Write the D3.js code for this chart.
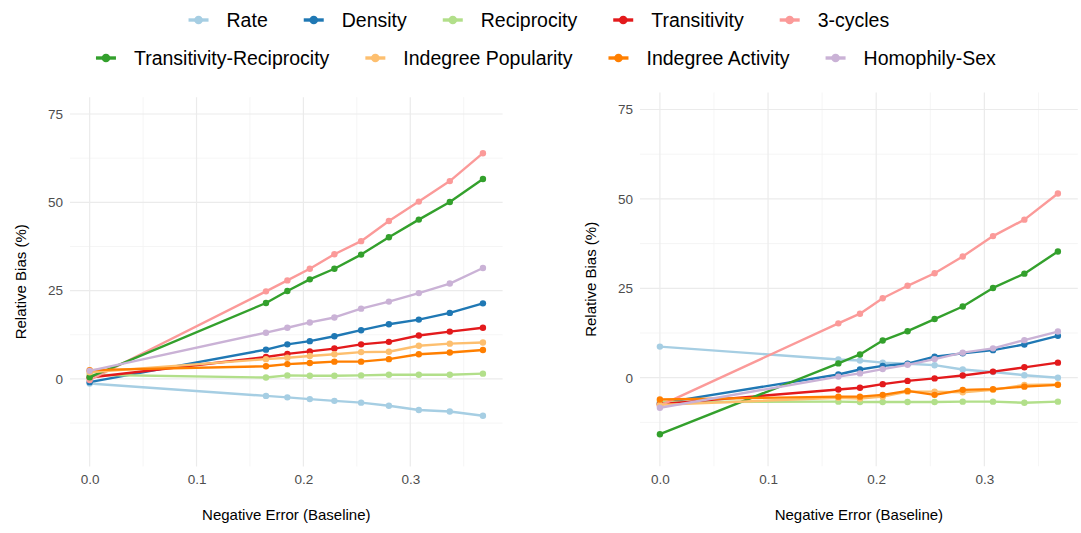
<!DOCTYPE html>
<html>
<head>
<meta charset="utf-8">
<script src="https://cdn.jsdelivr.net/npm/d3@7"></script>
<style>
  body { margin: 0; background: #fff; }
  svg { display: block; font-family: "Liberation Sans", Arial, sans-serif; }
</style>
</head>
<body>
<svg id="chart" width="1081" height="533"></svg>
<script>
// Negative error levels on the x axis
const errorLevels = [0, 0.165, 0.185, 0.206, 0.229, 0.254, 0.280, 0.308, 0.337, 0.368];

// Effects, in legend order, with their colours (ColorBrewer "Paired")
const effects = ["Rate", "Density", "Reciprocity", "Transitivity", "3-cycles",
                 "Transitivity-Reciprocity", "Indegree Popularity", "Indegree Activity", "Homophily-Sex"];
const effectColors = ["#A6CEE3", "#1F78B4", "#B2DF8A", "#E31A1C", "#FB9A99",
                      "#33A02C", "#FDBF6F", "#FF7F00", "#CAB2D6"];

// Relative bias (%) — left panel
const leftRate         = [-1.3, -4.8, -5.2, -5.7, -6.2, -6.7, -7.6, -8.8, -9.2, -10.4];
const leftDensity      = [-0.9, 8.3, 9.8, 10.7, 12.1, 13.8, 15.5, 16.8, 18.7, 21.4];
const leftReciprocity  = [1.2, 0.4, 1.0, 0.9, 0.9, 1.0, 1.2, 1.2, 1.2, 1.5];
const leftTransitivity = [0.4, 6.2, 7.1, 7.8, 8.6, 9.8, 10.5, 12.3, 13.4, 14.5];
const leftCycles       = [-0.3, 24.8, 27.9, 31.2, 35.3, 39.0, 44.7, 50.2, 56.0, 63.9];
const leftTransRecip   = [0.5, 21.5, 24.9, 28.2, 31.2, 35.2, 40.1, 45.1, 50.1, 56.6];
const leftInPop        = [1.9, 5.6, 6.0, 6.5, 7.0, 7.6, 7.7, 9.4, 10.0, 10.3];
const leftInAct        = [2.5, 3.6, 4.2, 4.5, 4.9, 4.9, 5.6, 7.0, 7.5, 8.2];
const leftHomophily    = [2.3, 13.1, 14.5, 16.0, 17.4, 19.9, 21.9, 24.3, 27.0, 31.4];

// Relative bias (%) — right panel
const rightRate         = [8.7, 5.1, 4.8, 4.2, 3.9, 3.5, 2.3, 1.6, 0.7, 0.0];
const rightDensity      = [-7.2, 0.9, 2.3, 3.3, 3.9, 5.9, 6.8, 7.7, 9.3, 11.7];
const rightReciprocity  = [-6.8, -6.7, -6.8, -6.8, -6.8, -6.8, -6.7, -6.7, -7.0, -6.7];
const rightTransitivity = [-7.4, -3.3, -2.8, -1.8, -0.9, -0.2, 0.6, 1.7, 2.9, 4.2];
const rightCycles       = [-7.8, 15.2, 17.9, 22.2, 25.7, 29.2, 33.9, 39.6, 44.2, 51.5];
const rightTransRecip   = [-15.8, 4.0, 6.5, 10.4, 13.0, 16.4, 19.9, 25.1, 29.1, 35.3];
const rightInPop        = [-7.6, -5.6, -5.8, -5.3, -3.9, -3.9, -4.1, -3.4, -2.0, -1.9];
const rightInAct        = [-6.1, -5.3, -5.3, -4.8, -3.7, -4.8, -3.4, -3.2, -2.5, -2.0];
const rightHomophily    = [-8.4, 0.3, 1.2, 2.4, 3.6, 5.2, 7.0, 8.2, 10.5, 12.9];

// Axis ticks
const xMajorTicks = [0, 0.1, 0.2, 0.3];
const xMinorTicks = [0.05, 0.15, 0.25, 0.35];
const yMajorTicks = [0, 25, 50, 75];
const yMinorTicks = [-12.5, 12.5, 37.5, 62.5];
const xLimits = [0, 0.368];
const yLimits = [-20, 75];

const xTitle = "Negative Error (Baseline)";
const yTitle = "Relative Bias (%)";

const leftSeries = [leftRate, leftDensity, leftReciprocity, leftTransitivity, leftCycles,
                    leftTransRecip, leftInPop, leftInAct, leftHomophily];
const rightSeries = [rightRate, rightDensity, rightReciprocity, rightTransitivity, rightCycles,
                     rightTransRecip, rightInPop, rightInAct, rightHomophily];

const svg = d3.select("#chart");

function expand(lim, frac) {
  const d = (lim[1] - lim[0]) * frac;
  return [lim[0] - d, lim[1] + d];
}

function drawPanel(series, box) {
  const x = d3.scaleLinear().domain(expand(xLimits, 0.05)).range([box.left, box.right]);
  const y = d3.scaleLinear().domain(expand(yLimits, 0.05)).range([box.bottom, box.top]);
  const g = svg.append("g");

  // grid
  const grid = g.append("g");
  grid.selectAll("line.ymin").data(yMinorTicks).join("line")
    .attr("x1", box.left).attr("x2", box.right)
    .attr("y1", d => y(d)).attr("y2", d => y(d))
    .attr("stroke", "#F2F2F2").attr("stroke-width", 0.8);
  grid.selectAll("line.xmin").data(xMinorTicks).join("line")
    .attr("y1", box.top).attr("y2", box.bottom)
    .attr("x1", d => x(d)).attr("x2", d => x(d))
    .attr("stroke", "#F2F2F2").attr("stroke-width", 0.8);
  grid.selectAll("line.ymaj").data(yMajorTicks).join("line")
    .attr("x1", box.left).attr("x2", box.right)
    .attr("y1", d => y(d)).attr("y2", d => y(d))
    .attr("stroke", "#EBEBEB").attr("stroke-width", 1.2);
  grid.selectAll("line.xmaj").data(xMajorTicks).join("line")
    .attr("y1", box.top).attr("y2", box.bottom)
    .attr("x1", d => x(d)).attr("x2", d => x(d))
    .attr("stroke", "#EBEBEB").attr("stroke-width", 1.2);

  // axes (labels only, no domain line or tick marks)
  const yAxis = d3.axisLeft(y).tickValues(yMajorTicks).tickSize(0).tickPadding(7).tickFormat(d3.format("d"));
  const xAxis = d3.axisBottom(x).tickValues(xMajorTicks).tickSize(0).tickPadding(8).tickFormat(d3.format(".1f"));
  const ya = g.append("g").attr("transform", `translate(${box.left},0)`).call(yAxis);
  const xa = g.append("g").attr("transform", `translate(0,${box.bottom})`).call(xAxis);
  [ya, xa].forEach(a => {
    a.select(".domain").remove();
    a.selectAll("text").attr("fill", "#4D4D4D").style("font-size", "13.5px")
      .style("font-family", "'Liberation Sans', Arial, sans-serif");
  });

  // titles
  g.append("text")
    .attr("x", (box.left + box.right) / 2).attr("y", 520)
    .attr("text-anchor", "middle").attr("fill", "#000")
    .style("font-size", "15px").text(xTitle);
  g.append("text")
    .attr("transform", `translate(${box.left - 50},${(box.top + box.bottom) / 2}) rotate(-90)`)
    .attr("text-anchor", "middle").attr("dominant-baseline", "central").attr("fill", "#000")
    .style("font-size", "15px").text(yTitle);

  // series lines and points
  const line = d3.line().x((d, i) => x(errorLevels[i])).y(d => y(d));
  series.forEach((vals, k) => {
    const s = g.append("g");
    s.append("path").datum(vals).attr("d", line)
      .attr("fill", "none").attr("stroke", effectColors[k])
      .attr("stroke-width", 2.4).attr("stroke-linejoin", "round").attr("stroke-linecap", "butt");
    s.selectAll("circle").data(vals).join("circle")
      .attr("cx", (d, i) => x(errorLevels[i])).attr("cy", d => y(d))
      .attr("r", 3.2).attr("fill", effectColors[k]);
  });
}

drawPanel(leftSeries,  { left: 70,  right: 502.6,  top: 97.2, bottom: 466.4 });
drawPanel(rightSeries, { left: 640, right: 1077.8, top: 92.5, bottom: 466.2 });

// legend: two centred rows
const legendRows = [
  { items: [0, 1, 2, 3, 4], y: 20, center: 539 },
  { items: [5, 6, 7, 8], y: 58, center: 546 }
];
const keyHalf = 10, keyToText = 28, itemGap = 46;
const legend = svg.append("g").style("font-size", "19.5px");
legendRows.forEach(row => {
  const rg = legend.append("g");
  let cx = 0;
  row.items.forEach((k, j) => {
    const it = rg.append("g").attr("transform", `translate(${cx},${row.y})`);
    it.append("line").attr("x1", -keyHalf).attr("x2", keyHalf)
      .attr("stroke", effectColors[k]).attr("stroke-width", 3.4);
    it.append("circle").attr("r", 4.3).attr("fill", effectColors[k]);
    const t = it.append("text").attr("x", keyToText).attr("dominant-baseline", "central")
      .attr("fill", "#000").text(effects[k]);
    const w = t.node().getComputedTextLength();
    cx += keyToText + w + itemGap;
  });
  const bb = rg.node().getBBox();
  rg.attr("transform", `translate(${row.center - (bb.x + bb.width / 2)},0)`);
});
</script>
</body>
</html>
